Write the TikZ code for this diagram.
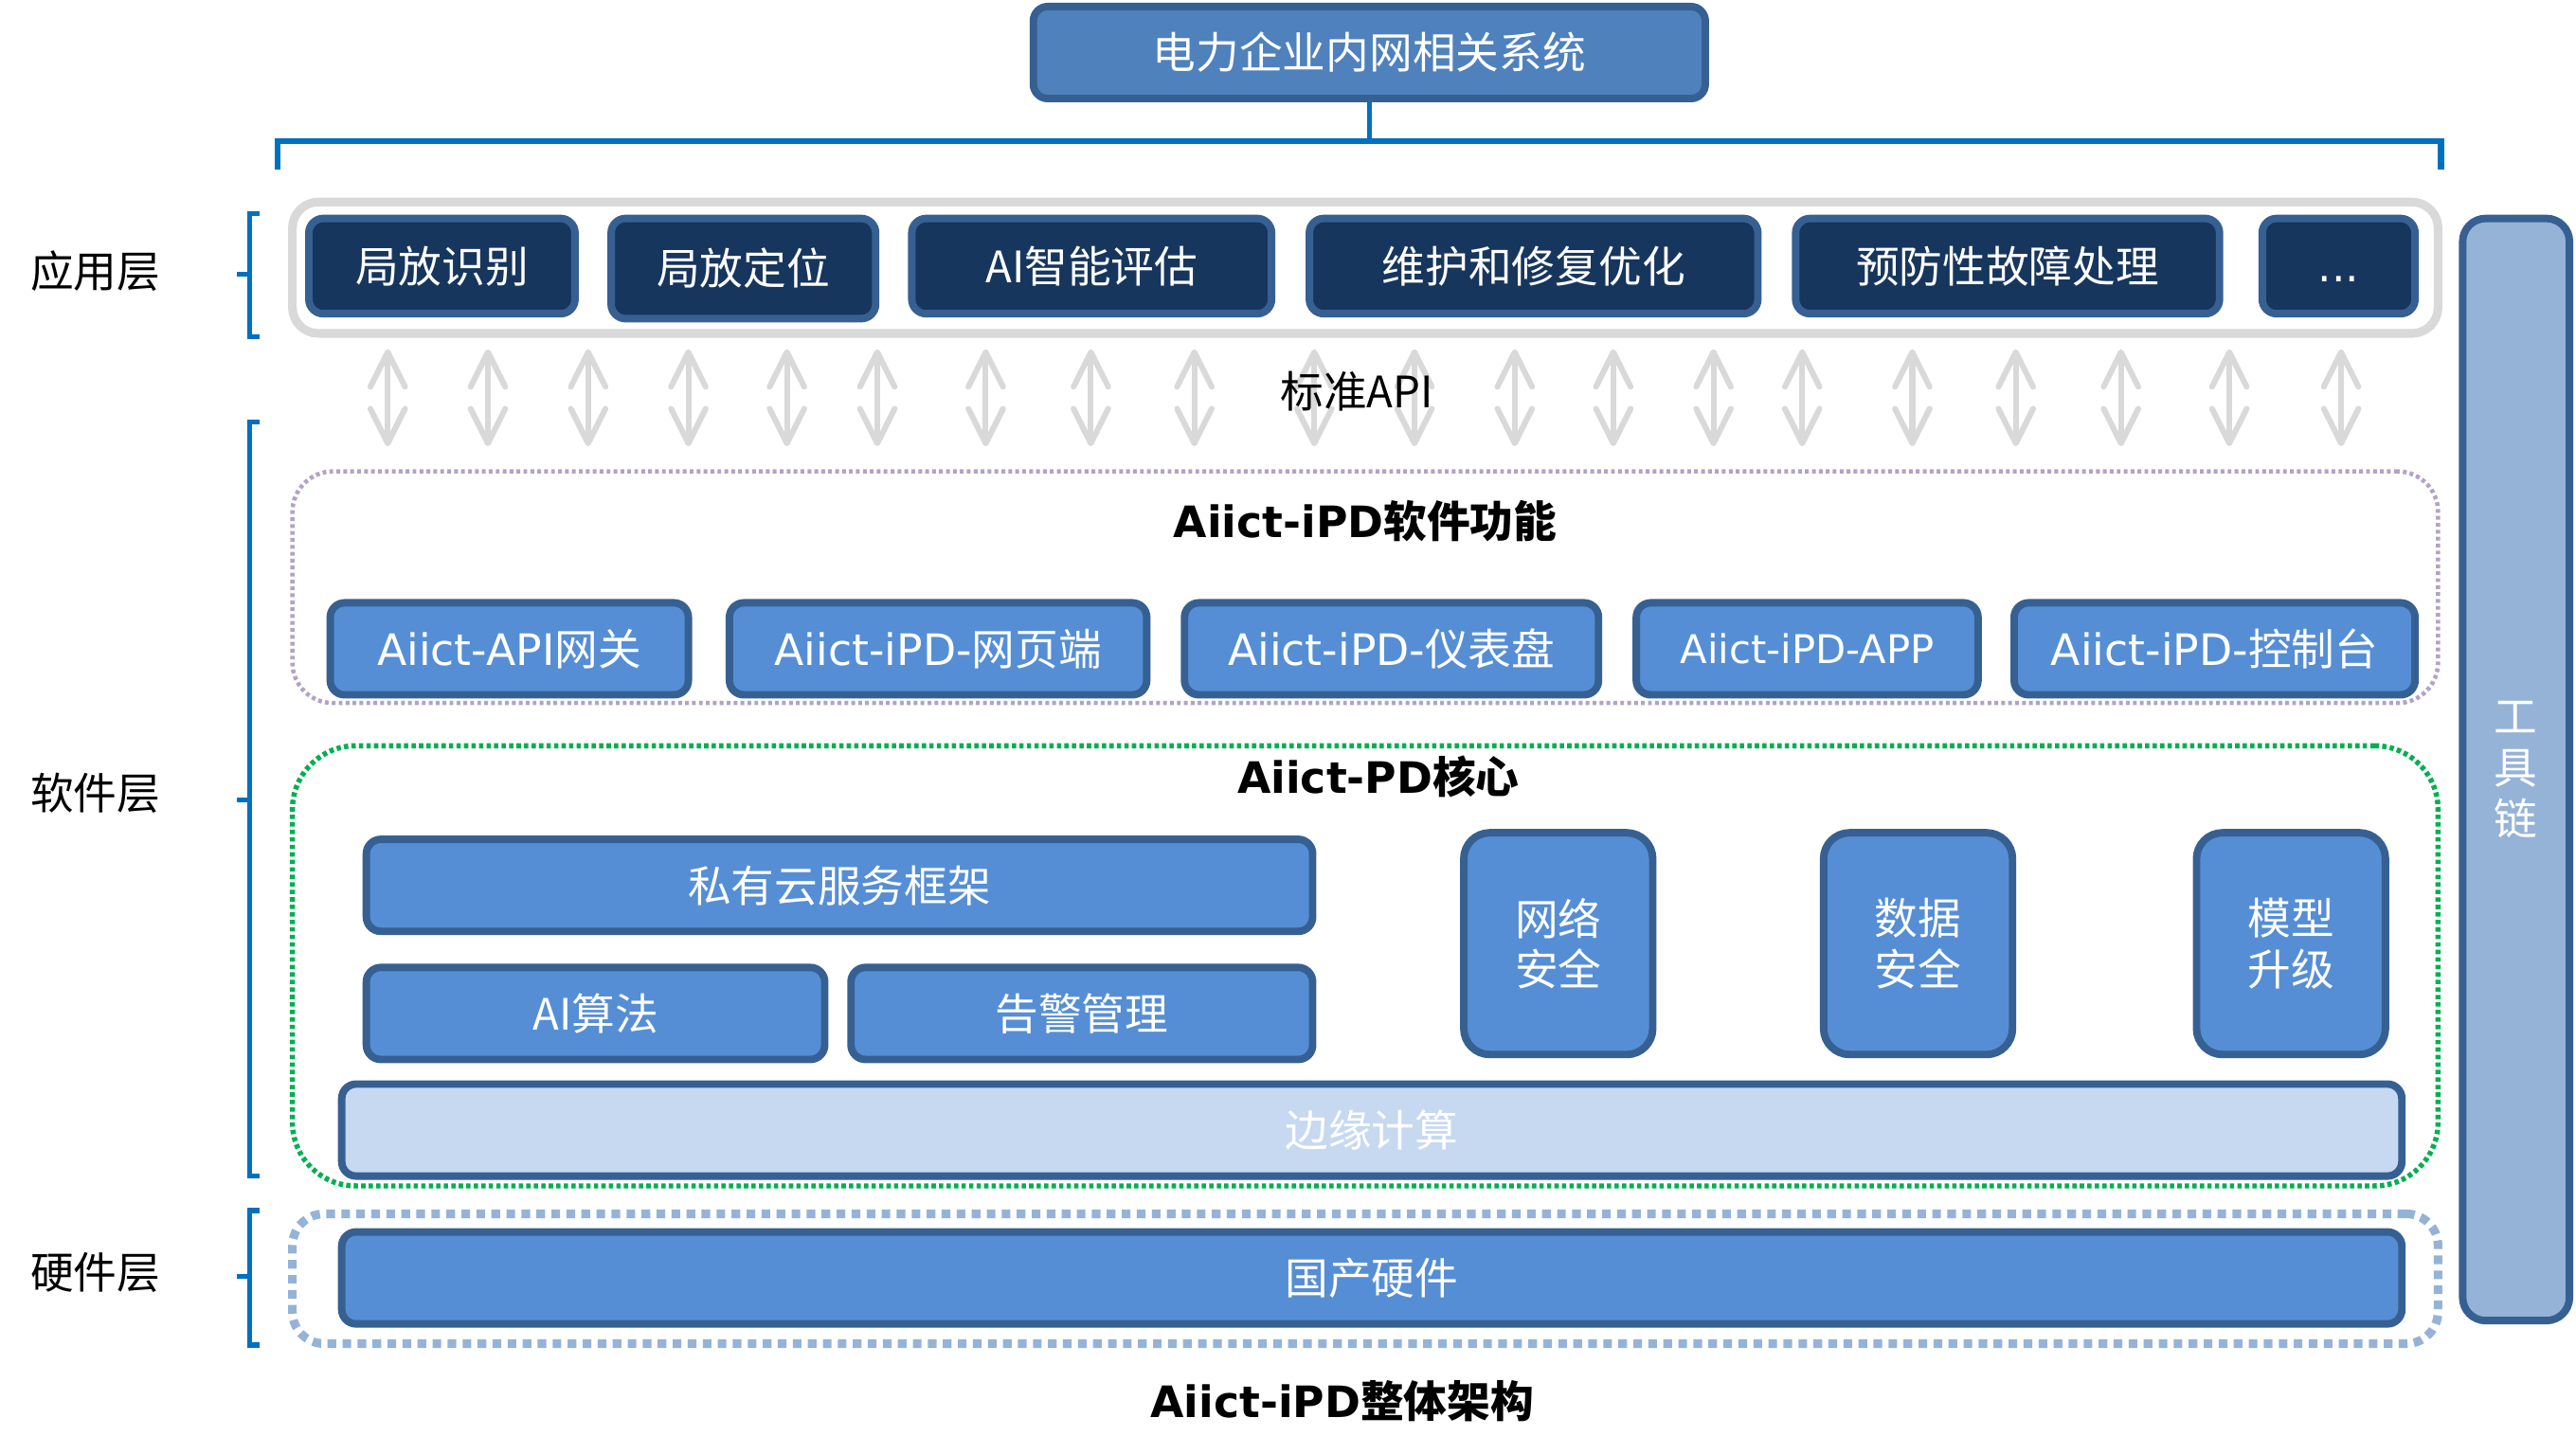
\documentclass[tikz,border=0pt]{standalone}
\usepackage{fontspec}
\setmainfont{Noto Sans CJK SC}
\newfontfamily\lat{DejaVu Sans}
\usetikzlibrary{arrows.meta,calc}
\definecolor{navy}{HTML}{17365D}
\definecolor{bord}{HTML}{376092}
\definecolor{topfill}{HTML}{4F81BD}
\definecolor{midblue}{HTML}{558ED5}
\definecolor{toolfill}{HTML}{95B3D7}
\definecolor{edgefill}{HTML}{C6D9F1}
\definecolor{lgray}{HTML}{D9D9D9}
\definecolor{lav}{HTML}{B3A2C7}
\definecolor{grn}{HTML}{00B050}
\definecolor{bline}{HTML}{0070C0}
\definecolor{hwdash}{HTML}{95B3D7}
\begin{document}
\begin{tikzpicture}[x=0.02cm,y=-0.02cm,
  sz/.style 2 args={minimum width=(#1-4)*0.02cm, minimum height=(#2-4)*0.02cm},
  box/.style={draw=bord, line width=2.6pt, rounded corners=5pt, inner sep=0pt, text=white, font=\fontsize{15}{18}\selectfont},
  appbox/.style={box, fill=navy},
  swbox/.style={box, fill=midblue},
  tallbox/.style={box, fill=midblue, rounded corners=9pt, align=center, font=\fontsize{15}{17.6}\selectfont},
  lbl/.style={font=\fontsize{15}{18}\selectfont, text=black},
  ttl/.style={font=\fontsize{15}{18}\selectfont\bfseries, text=black},
  blueln/.style={draw=bline, line width=2.2pt},
  brk/.style={draw=bline, line width=1.8pt},
  apiarrow/.style={draw=lgray, line width=2pt, {Straight Barb[length=12pt,width=12pt,round]}-{Straight Barb[length=12pt,width=12pt,round]}}
]
\useasboundingbox (0,0) rectangle (1568,885);

% top system box
\node[box, fill=topfill, sz={413}{60}] (top) at (833.5,32) {电力企业内网相关系统};
\coordinate (hl) at (169,103);
\coordinate (hr) at (1486,103);
\draw[blueln, line width=1.8pt] (top.south) -- (top.south |- 0,86);
\draw[blueln] (hl) |- (hr |- 0,86) -- (hr);

% left labels and brackets
\node[lbl] (lapp) at (58,165) {应用层};
\node[lbl] (lsw) at (58,483) {软件层};
\node[lbl] (lhw) at (58,775) {硬件层};
\draw[brk] (158,130) -- (152,130) -- (152,205) -- (158,205) (152,167) -- (144,167);
\draw[brk] (158,257) -- (152,257) -- (152,716) -- (158,716) (152,487) -- (144,487);
\draw[brk] (158,737) -- (152,737) -- (152,819) -- (158,819) (152,777) -- (144,777);

% application layer
\node[draw=lgray, line width=3pt, rounded corners=9pt, fill=white, sz={1310}{84}] (appbg) at (831,163) {};
\node[appbox, sz={166}{62}] (a1) at (269,162) {局放识别};
\node[appbox, sz={165}{65}] (a2) at (452.5,163.5) {局放定位};
\node[appbox, sz={223}{62}] (a3) at (664.5,162) {AI智能评估};
\node[appbox, sz={277}{62}] (a4) at (933.5,162) {维护和修复优化};
\node[appbox, sz={262}{62}] (a5) at (1222,162) {预防性故障处理};
\node[appbox, sz={97}{62}] (a6) at (1423.5,162) {\vphantom{局}{\lat ...}};

% software function container
\node[draw=lav, line width=1.5pt, dash pattern=on 1.3pt off 1.1pt, rounded corners=14pt, sz={1310}{145}] (swbg) at (831,357.5) {};

% API arrows
\foreach \x in {236,297,358,419,479,534,600,664,727,800,861,922,982,1043,1097,1164,1227,1291,1357,1425}
  \draw[apiarrow] ($(appbg.south -| \x,0)+(0,7)$) -- ($(swbg.north -| \x,0)+(0,-14)$);
\node[lbl] (api) at (826,238) {标准API};

\node[ttl] (swt) at (831,317) {{\lat Aiict-iPD}软件功能};
\node[swbox, sz={222}{60}] (s1) at (310,395) {{\lat Aiict-API}网关};
\node[swbox, sz={258}{60}] (s2) at (571,395) {{\lat Aiict-iPD-}网页端};
\node[swbox, sz={256}{60}] (s3) at (847,395) {{\lat Aiict-iPD-}仪表盘};
\node[swbox, sz={212}{60}, font=\fontsize{13.7}{16}\selectfont] (s4) at (1100,395) {{\lat Aiict-iPD-APP}};
\node[swbox, sz={248}{60}] (s5) at (1348,395) {{\lat Aiict-iPD-}控制台};

% core container
\node[draw=grn, line width=1.8pt, dash pattern=on 1.5pt off 1.1pt, rounded corners=22pt, sz={1310}{272}] (corebg) at (831,588) {};
\node[ttl] (coret) at (839,473) {{\lat Aiict-PD}核心};
\node[swbox, sz={580}{60}] (c1) at (511,539) {私有云服务框架};
\node[swbox, sz={283}{60}] (c2) at (362.5,617) {AI算法};
\node[swbox, sz={285}{60}] (c3) at (658.5,617) {告警管理};
\node[tallbox, sz={119}{139}] (c4) at (948.5,574.5) {网络\\安全};
\node[tallbox, sz={119}{139}] (c5) at (1167.5,574.5) {数据\\安全};
\node[tallbox, sz={119}{139}] (c6) at (1394.5,574.5) {模型\\升级};
\node[box, fill=edgefill, sz={1258}{60}] (edge) at (835,688) {边缘计算};

% hardware
\node[draw=hwdash, line width=3pt, dash pattern=on 3pt off 2.2pt, rounded corners=11pt, sz={1310}{83}] (hwbg) at (831,778.5) {};
\node[swbox, sz={1258}{60}] (hw) at (835,778) {国产硬件};

% tool chain
\node[box, fill=toolfill, rounded corners=8pt, align=center, font=\fontsize{15}{17.6}\selectfont, sz={69}{675}] (tool) at (1531.5,468.5) {工\\具\\链};

% bottom title
\node[ttl] (bt) at (817,853) {{\lat Aiict-iPD}整体架构};
\end{tikzpicture}
\end{document}
